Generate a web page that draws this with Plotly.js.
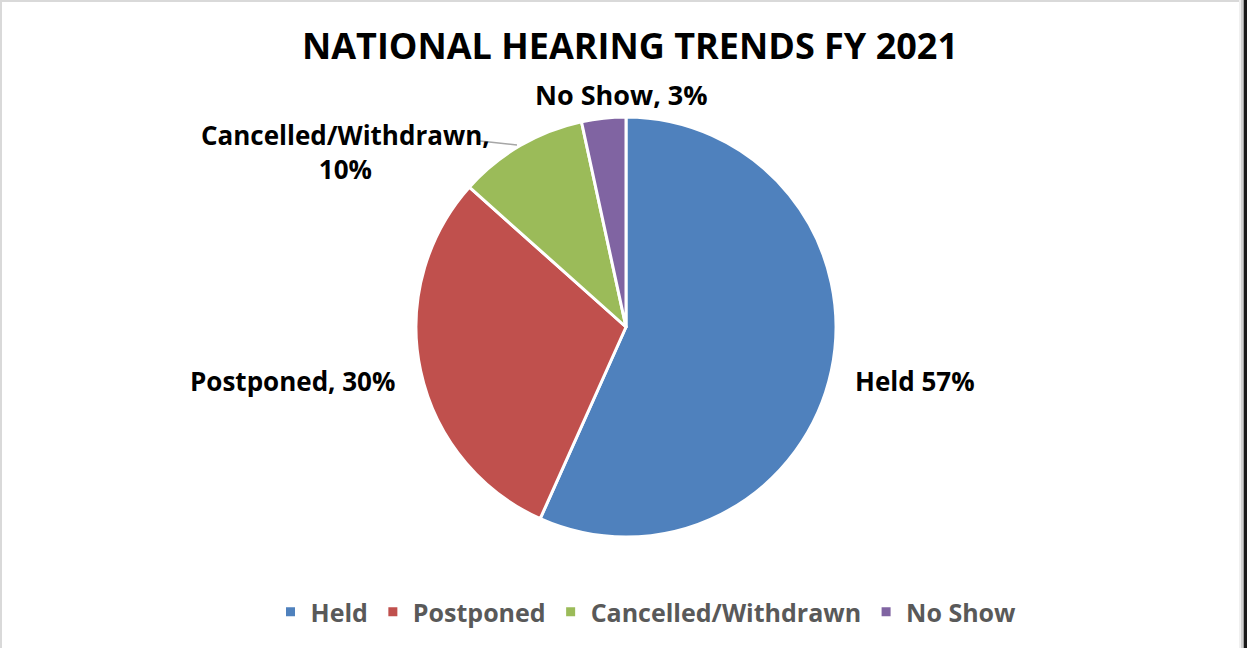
<!DOCTYPE html>
<html>
<head>
<meta charset="utf-8">
<script src="https://cdn.plot.ly/plotly-3.0.1.min.js"></script>
<style>
html,body{margin:0;padding:0;background:#fff;}
#chart{width:1247px;height:648px;}
</style>
</head>
<body>
<div id="chart"></div>
<script>
const categories = ["Held", "Postponed", "Cancelled/Withdrawn", "No Show"];
const values = [56.7, 29.9, 10.0, 3.4];
const labelTexts = ["Held 57%", "Postponed, 30%", "Cancelled/Withdrawn,<br>10%", "No Show, 3%"];
const colors = ["#4F81BD", "#C0504D", "#9BBB59", "#8064A2"];

const W = 1247, H = 648;
const cx = 626, cy = 327, R = 210;

// label anchor positions (pixels) for each slice's data label
const labelPos = [[915, 381], [292, 381], [345, 152], [621, 95]];

const trace = {
  type: "pie",
  labels: categories,
  values: values,
  textinfo: "none",
  sort: false,
  direction: "clockwise",
  rotation: 0,
  marker: {colors: colors, line: {color: "#FFFFFF", width: 3}},
  automargin: false,
  hoverinfo: "label+percent",
  domain: {x: [(cx - R) / W, (cx + R) / W], y: [(H - cy - R) / H, (H - cy + R) / H]}
};

const labelSizes = [26, 26, 26, 27];
const annotations = labelTexts.map((t, i) => ({
  text: "<b>" + t + "</b>",
  xref: "paper", yref: "paper",
  x: labelPos[i][0] / W, y: 1 - labelPos[i][1] / H,
  xanchor: "center", yanchor: "middle",
  showarrow: false, align: "center",
  font: {family: "Open Sans, sans-serif", size: labelSizes[i], color: "#000000"}
}));

const layout = {
  width: W, height: H,
  margin: {l: 0, r: 0, t: 0, b: 0},
  paper_bgcolor: "#FFFFFF",
  title: {
    text: "<b>NATIONAL HEARING TRENDS FY 2021</b>",
    font: {family: "Open Sans, sans-serif", size: 36, color: "#000000"},
    x: 630 / W, xanchor: "center", y: 1 - 46 / H, yanchor: "middle"
  },
  showlegend: true,
  legend: {
    orientation: "h", x: 646 / W, xanchor: "center", y: 1 - 612 / H, yanchor: "middle",
    font: {family: "Open Sans, sans-serif", size: 25, color: "#595959", weight: "bold"},
    itemclick: false, itemdoubleclick: false, traceorder: "normal"
  },
  annotations: annotations,
  shapes: [
    {type: "line", xref: "paper", yref: "paper", x0: 480 / W, y0: 1 - 141 / H, x1: 517 / W, y1: 1 - 145 / H, line: {color: "#A6A6A6", width: 1.5}},
    {type: "rect", xref: "paper", yref: "paper", x0: 0, x1: 1240 / W, y0: 1 - 2 / H, y1: 1, line: {width: 0}, fillcolor: "#D9D9D9"},
    {type: "rect", xref: "paper", yref: "paper", x0: 0, x1: 2 / W, y0: 0, y1: 1, line: {width: 0}, fillcolor: "#D9D9D9"},
    {type: "rect", xref: "paper", yref: "paper", x0: 1239 / W, x1: 1241 / W, y0: 0, y1: 1, line: {width: 0}, fillcolor: "#F0F0F0"},
    {type: "rect", xref: "paper", yref: "paper", x0: 1241 / W, x1: 1243 / W, y0: 0, y1: 1, line: {width: 0}, fillcolor: "#D0D0D0"},
    {type: "rect", xref: "paper", yref: "paper", x0: 1243 / W, x1: 1244 / W, y0: 0, y1: 1, line: {width: 0}, fillcolor: "#A0A0A0"},
    {type: "rect", xref: "paper", yref: "paper", x0: 1244 / W, x1: 1, y0: 0, y1: 1, line: {width: 0}, fillcolor: "#1A1A1A"}
  ]
};

Plotly.newPlot("chart", [trace], layout, {displayModeBar: false, responsive: false});
</script>
</body>
</html>
